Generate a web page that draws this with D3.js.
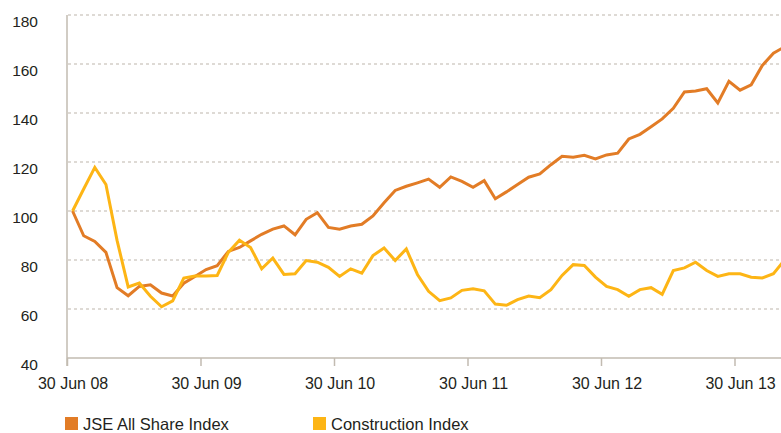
<!DOCTYPE html>
<html>
<head>
<meta charset="utf-8">
<script src="https://cdn.jsdelivr.net/npm/d3@7"></script>
<style>
  body { margin: 0; background: #fff; }
  svg { display: block; font-family: "Liberation Sans", Arial, sans-serif; }
  .grid line { stroke: #bdb6ac; stroke-width: 1.2; stroke-dasharray: 3,3; }
  .lbl text { fill: #231f20; }
</style>
</head>
<body>
<svg id="chart" width="781" height="433"></svg>
<script>
// Monthly index values, month 0 = 30 Jun 08
const jse = [100, 89.9, 87.6, 83.1, 68.7, 65.4, 69.2, 69.9, 66.5, 65.3,
  70.5, 73.3, 76.1, 77.7, 83.5, 85.1, 87.8, 90.5, 92.6, 93.9,
  90.3, 96.6, 99.3, 93.3, 92.6, 93.9, 94.6, 98, 103.4, 108.4,
  110.1, 111.5, 113, 109.7, 113.9, 112.1, 109.7, 112.4, 105, 107.8,
  110.8, 113.8, 115.1, 118.9, 122.3, 121.9, 122.7, 121.3, 122.9, 123.6,
  129.4, 131.3, 134.4, 137.6, 141.9, 148.6, 149, 149.9, 144.1, 152.9,
  149.3, 151.5, 159.4, 164.4, 167];
const construction = [100, 109, 117.8, 110.8, 88, 69, 70.6, 65.2, 60.9, 63.3,
  72.6, 73.5, 73.5, 73.7, 83.1, 88.1, 85.1, 76.4, 80.8, 74.1,
  74.4, 79.8, 79.1, 77, 73.3, 76.4, 74.6, 81.8, 84.9, 79.8,
  84.5, 74.1, 67.2, 63.4, 64.5, 67.6, 68.3, 67.4, 62, 61.5,
  63.8, 65.3, 64.6, 67.9, 73.7, 78.1, 77.8, 73, 69.2, 67.9,
  65.2, 67.9, 68.7, 66, 75.7, 76.8, 79.1, 75.7, 73.3, 74.4,
  74.4, 73, 72.7, 74.4, 80];
const tickLabels = ["30 Jun 08", "30 Jun 09", "30 Jun 10", "30 Jun 11", "30 Jun 12", "30 Jun 13"];
const yTicks = [40, 60, 80, 100, 120, 140, 160, 180];
const seriesNames = ["JSE All Share Index", "Construction Index"];
const colors = ["#e27c26", "#fdb515"];

const svg = d3.select("#chart");

// scales: categories sit between tick marks, as in the original
const x = d3.scaleLinear().domain([-0.5, 63.68]).range([67, 781]);
const y = d3.scaleLinear().domain([40, 180]).range([358, 15]);

// dashed gridlines
svg.append("g").attr("class", "grid")
  .selectAll("line")
  .data(yTicks.slice(1))
  .enter().append("line")
  .attr("x1", 68).attr("x2", 781)
  .attr("y1", d => y(d)).attr("y2", d => y(d));

// y labels
svg.append("g").attr("class", "lbl")
  .attr("transform", "translate(67,0)")
  .call(d3.axisLeft(y).tickValues(yTicks).tickSize(0).tickPadding(29))
  .call(g => g.select(".domain").remove())
  .call(g => g.selectAll("text").attr("dy", "0.75em"))
  .attr("font-family", null).attr("font-size", "15.5px");

// x tick marks at category boundaries
svg.append("g")
  .attr("transform", "translate(0,358)")
  .call(d3.axisBottom(x).tickValues(tickLabels.map((d, i) => i * 12 - 0.5)).tickSize(8).tickFormat(""))
  .call(g => g.select(".domain").remove())
  .call(g => g.selectAll("line").attr("stroke", "#c2bbb1").attr("stroke-width", 1.5));

// x labels under categories
svg.append("g").attr("class", "lbl")
  .attr("transform", "translate(0,358)")
  .call(d3.axisBottom(x).tickValues(tickLabels.map((d, i) => i * 12)).tickSize(0).tickPadding(20)
    .tickFormat((d, i) => tickLabels[i]))
  .call(g => g.select(".domain").remove())
  .attr("font-family", null).attr("font-size", "16px");

// axis lines
svg.append("line").attr("x1", 67).attr("x2", 67).attr("y1", y(180)).attr("y2", 366)
  .attr("stroke", "#c2bbb1").attr("stroke-width", 1.5);
svg.append("line").attr("x1", 67).attr("x2", 781).attr("y1", y(40)).attr("y2", y(40))
  .attr("stroke", "#c2bbb1").attr("stroke-width", 1.5);

// lines
const line = d3.line().x((d, i) => x(i)).y(d => y(d));
[jse, construction].forEach((s, k) => {
  svg.append("path")
    .datum(s)
    .attr("fill", "none")
    .attr("stroke", colors[k])
    .attr("stroke-width", 3)
    .attr("d", line);
});

// legend
const legend = svg.append("g").attr("class", "lbl")
  .selectAll("g")
  .data(seriesNames)
  .enter().append("g")
  .attr("transform", (d, i) => `translate(${65 + i * 248},417)`);
legend.append("rect").attr("width", 13).attr("height", 13).attr("fill", (d, i) => colors[i]);
legend.append("text").attr("x", 18).attr("y", 13).style("font-size", "16.5px").text(d => d);
</script>
</body>
</html>
